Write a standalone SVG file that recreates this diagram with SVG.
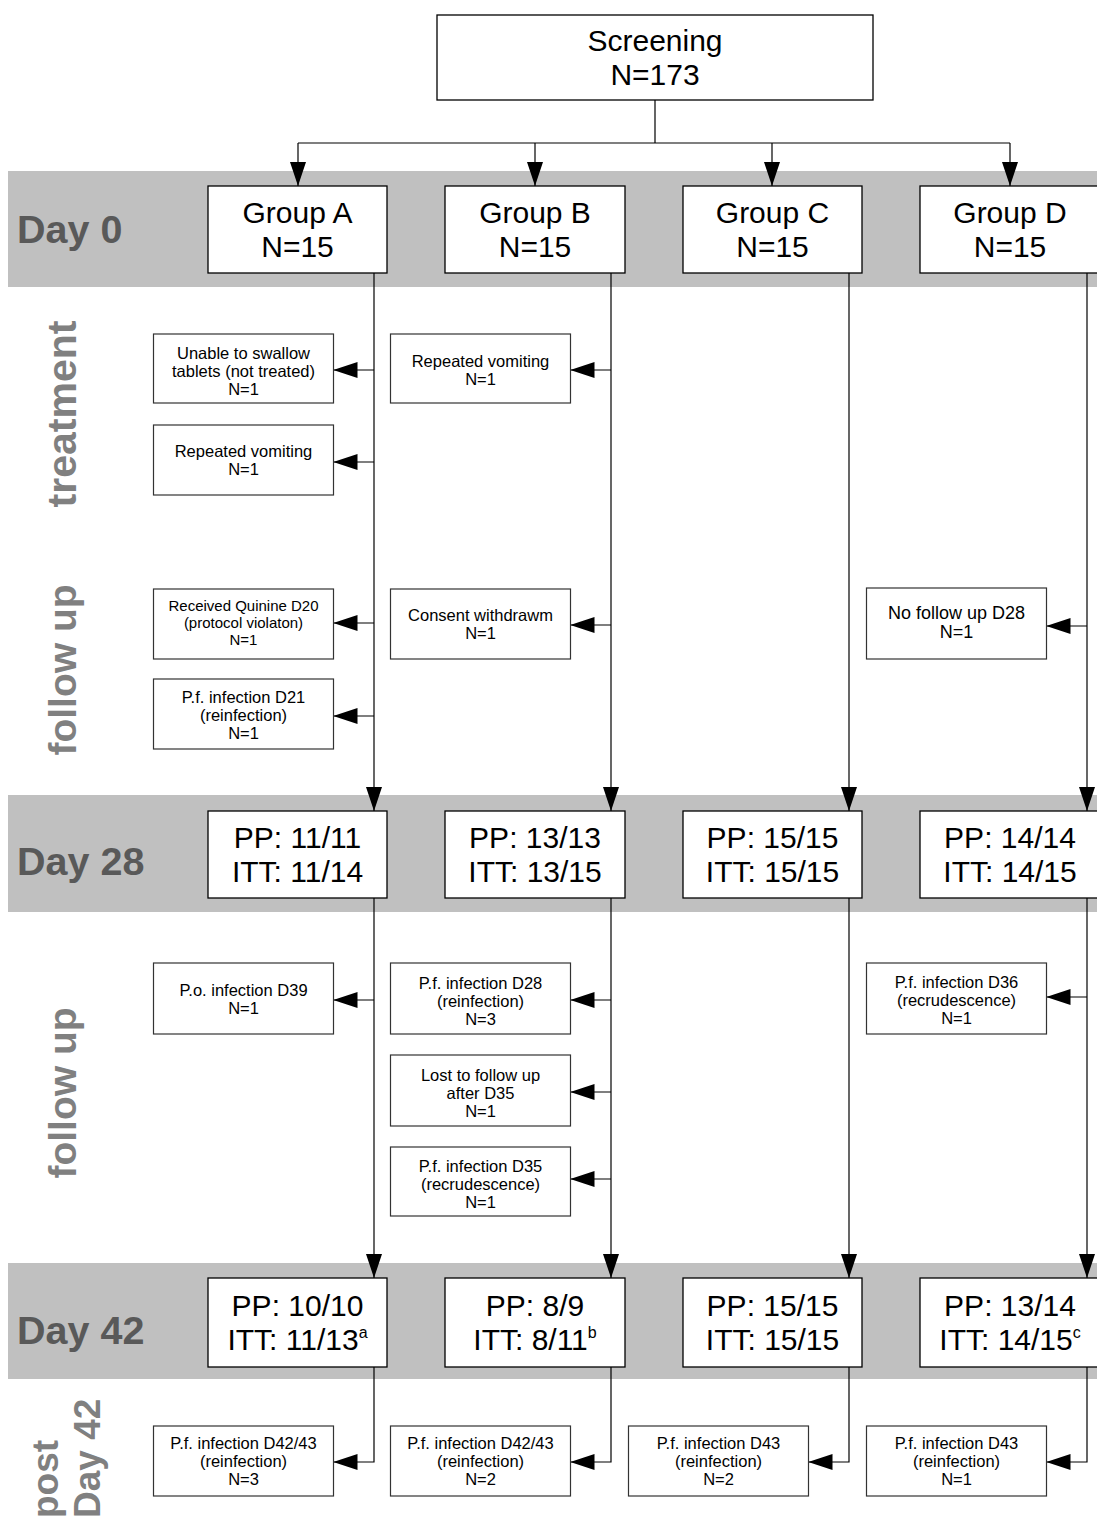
<svg xmlns="http://www.w3.org/2000/svg" width="1097" height="1517" viewBox="0 0 1097 1517">
<defs>
<marker id="ah" markerWidth="24" markerHeight="16" refX="24" refY="8" orient="auto" markerUnits="userSpaceOnUse"><path d="M0,0 L24,8 L0,16 z" fill="#000"/></marker>
<style>
.band{fill:#c0c0c0}
.box{fill:#fff;stroke:#000;stroke-width:1.3}
.sbox{fill:#fff;stroke:#333;stroke-width:1.2}
text{font-family:"Liberation Sans",Arial,Helvetica,sans-serif}
.big{font-size:30px;text-anchor:middle;fill:#000}
.sm{font-size:16.5px;text-anchor:middle;fill:#000}
.day{font-size:39.5px;font-weight:bold;fill:#595959}
.vl{font-size:39px;font-weight:bold;fill:#808080}
.conn{fill:none;stroke:#000;stroke-width:1.2}
</style>
</defs>
<rect width="1097" height="1517" fill="#fff"/>
<g id="bands">
<rect class="band" x="8" y="171" width="1089" height="116"/>
<rect class="band" x="8" y="795" width="1089" height="117"/>
<rect class="band" x="8" y="1263" width="1089" height="116"/>
<text class="day" x="17" y="243">Day 0</text>
<text class="day" x="17" y="875">Day 28</text>
<text class="day" x="17" y="1344">Day 42</text>
<text class="vl" style="font-size:41px" transform="translate(76,414) rotate(-90)" text-anchor="middle">treatment</text>
<text class="vl" transform="translate(76,670) rotate(-90)" text-anchor="middle">follow up</text>
<text class="vl" transform="translate(76,1093) rotate(-90)" text-anchor="middle">follow up</text>
<text class="vl" style="font-size:37px" transform="translate(58,1518) rotate(-90)">post</text>
<text class="vl" style="font-size:37px" transform="translate(100,1518) rotate(-90)">Day 42</text>
</g>
<g id="connectors">
<path class="conn" d="M655,100 V143 M298,143 H1010"/>
<path class="conn" d="M298,143 V186" marker-end="url(#ah)"/>
<path class="conn" d="M535,143 V186" marker-end="url(#ah)"/>
<path class="conn" d="M772,143 V186" marker-end="url(#ah)"/>
<path class="conn" d="M1010,143 V186" marker-end="url(#ah)"/>
<path class="conn" d="M374,273 V811" marker-end="url(#ah)"/>
<path class="conn" d="M374,898 V1278" marker-end="url(#ah)"/>
<path class="conn" d="M374,1367 V1462 H333.5" marker-end="url(#ah)"/>
<path class="conn" d="M611,273 V811" marker-end="url(#ah)"/>
<path class="conn" d="M611,898 V1278" marker-end="url(#ah)"/>
<path class="conn" d="M611,1367 V1462 H570.5" marker-end="url(#ah)"/>
<path class="conn" d="M849,273 V811" marker-end="url(#ah)"/>
<path class="conn" d="M849,898 V1278" marker-end="url(#ah)"/>
<path class="conn" d="M849,1367 V1462 H808.5" marker-end="url(#ah)"/>
<path class="conn" d="M1087,273 V811" marker-end="url(#ah)"/>
<path class="conn" d="M1087,898 V1278" marker-end="url(#ah)"/>
<path class="conn" d="M1087,1367 V1462 H1046.5" marker-end="url(#ah)"/>
<path class="conn" d="M374,370 H333.5" marker-end="url(#ah)"/>
<path class="conn" d="M374,462 H333.5" marker-end="url(#ah)"/>
<path class="conn" d="M374,623 H333.5" marker-end="url(#ah)"/>
<path class="conn" d="M374,716 H333.5" marker-end="url(#ah)"/>
<path class="conn" d="M374,1000 H333.5" marker-end="url(#ah)"/>
<path class="conn" d="M611,370 H570.5" marker-end="url(#ah)"/>
<path class="conn" d="M611,625 H570.5" marker-end="url(#ah)"/>
<path class="conn" d="M611,1000 H570.5" marker-end="url(#ah)"/>
<path class="conn" d="M611,1092 H570.5" marker-end="url(#ah)"/>
<path class="conn" d="M611,1179 H570.5" marker-end="url(#ah)"/>
<path class="conn" d="M1087,626 H1046.5" marker-end="url(#ah)"/>
<path class="conn" d="M1087,997 H1046.5" marker-end="url(#ah)"/>
</g>
<g id="screening"><rect class="box" x="437" y="15" width="436" height="85"/><text class="big" x="655" y="51">Screening</text><text class="big" x="655" y="85">N=173</text></g>
<g id="groupA"><rect class="box" x="208" y="186" width="179" height="87"/><text class="big" x="297.5" y="223">Group A</text><text class="big" x="297.5" y="257">N=15</text></g>
<g id="groupB"><rect class="box" x="445" y="186" width="180" height="87"/><text class="big" x="535" y="223">Group B</text><text class="big" x="535" y="257">N=15</text></g>
<g id="groupC"><rect class="box" x="683" y="186" width="179" height="87"/><text class="big" x="772.5" y="223">Group C</text><text class="big" x="772.5" y="257">N=15</text></g>
<g id="groupD"><rect class="box" x="920" y="186" width="180" height="87"/><text class="big" x="1010" y="223">Group D</text><text class="big" x="1010" y="257">N=15</text></g>
<g id="d28A"><rect class="box" x="208" y="811" width="179" height="87"/><text class="big" x="297.5" y="848">PP: 11/11</text><text class="big" x="297.5" y="882">ITT: 11/14</text></g>
<g id="d28B"><rect class="box" x="445" y="811" width="180" height="87"/><text class="big" x="535" y="848">PP: 13/13</text><text class="big" x="535" y="882">ITT: 13/15</text></g>
<g id="d28C"><rect class="box" x="683" y="811" width="179" height="87"/><text class="big" x="772.5" y="848">PP: 15/15</text><text class="big" x="772.5" y="882">ITT: 15/15</text></g>
<g id="d28D"><rect class="box" x="920" y="811" width="180" height="87"/><text class="big" x="1010" y="848">PP: 14/14</text><text class="big" x="1010" y="882">ITT: 14/15</text></g>
<g id="d42A"><rect class="box" x="208" y="1278" width="179" height="89"/><text class="big" x="297.5" y="1316">PP: 10/10</text><text class="big" x="297.5" y="1350">ITT: 11/13<tspan font-size="16" dy="-12">a</tspan></text></g>
<g id="d42B"><rect class="box" x="445" y="1278" width="180" height="89"/><text class="big" x="535" y="1316">PP: 8/9</text><text class="big" x="535" y="1350">ITT: 8/11<tspan font-size="16" dy="-12">b</tspan></text></g>
<g id="d42C"><rect class="box" x="683" y="1278" width="179" height="89"/><text class="big" x="772.5" y="1316">PP: 15/15</text><text class="big" x="772.5" y="1350">ITT: 15/15</text></g>
<g id="d42D"><rect class="box" x="920" y="1278" width="180" height="89"/><text class="big" x="1010" y="1316">PP: 13/14</text><text class="big" x="1010" y="1350">ITT: 14/15<tspan font-size="16" dy="-12">c</tspan></text></g>
<g id="a_unable"><rect class="sbox" x="153.5" y="334" width="180" height="69"/><text class="sm" x="243.5" y="359">Unable to swallow</text><text class="sm" x="243.5" y="377">tablets (not treated)</text><text class="sm" x="243.5" y="395">N=1</text></g>
<g id="a_vomit"><rect class="sbox" x="153.5" y="425" width="180" height="70"/><text class="sm" x="243.5" y="457">Repeated vomiting</text><text class="sm" x="243.5" y="475">N=1</text></g>
<g id="a_quinine"><rect class="sbox" x="153.5" y="589" width="180" height="70"/><text class="sm" style="font-size:15px" x="243.5" y="611">Received Quinine D20</text><text class="sm" style="font-size:15px" x="243.5" y="628">(protocol violaton)</text><text class="sm" style="font-size:15px" x="243.5" y="645">N=1</text></g>
<g id="a_d21"><rect class="sbox" x="153.5" y="679" width="180" height="70"/><text class="sm" x="243.5" y="703">P.f. infection D21</text><text class="sm" x="243.5" y="721">(reinfection)</text><text class="sm" x="243.5" y="739">N=1</text></g>
<g id="b_vomit"><rect class="sbox" x="390.5" y="334" width="180" height="69"/><text class="sm" x="480.5" y="367">Repeated vomiting</text><text class="sm" x="480.5" y="385">N=1</text></g>
<g id="b_consent"><rect class="sbox" x="390.5" y="589" width="180" height="70"/><text class="sm" x="480.5" y="621">Consent withdrawm</text><text class="sm" x="480.5" y="639">N=1</text></g>
<g id="d_nofollow"><rect class="sbox" x="866.5" y="588" width="180" height="71"/><text class="sm" style="font-size:18px" x="956.5" y="619">No follow up D28</text><text class="sm" style="font-size:18px" x="956.5" y="638">N=1</text></g>
<g id="a_d39"><rect class="sbox" x="153.5" y="963" width="180" height="71"/><text class="sm" x="243.5" y="996">P.o. infection D39</text><text class="sm" x="243.5" y="1014">N=1</text></g>
<g id="b_d28"><rect class="sbox" x="390.5" y="963" width="180" height="71"/><text class="sm" x="480.5" y="989">P.f. infection D28</text><text class="sm" x="480.5" y="1007">(reinfection)</text><text class="sm" x="480.5" y="1025">N=3</text></g>
<g id="b_lost"><rect class="sbox" x="390.5" y="1055" width="180" height="71"/><text class="sm" x="480.5" y="1081">Lost to follow up</text><text class="sm" x="480.5" y="1099">after D35</text><text class="sm" x="480.5" y="1117">N=1</text></g>
<g id="b_d35"><rect class="sbox" x="390.5" y="1147" width="180" height="69"/><text class="sm" x="480.5" y="1172">P.f. infection D35</text><text class="sm" x="480.5" y="1190">(recrudescence)</text><text class="sm" x="480.5" y="1208">N=1</text></g>
<g id="d_d36"><rect class="sbox" x="866.5" y="963" width="180" height="71"/><text class="sm" x="956.5" y="988">P.f. infection D36</text><text class="sm" x="956.5" y="1006">(recrudescence)</text><text class="sm" x="956.5" y="1024">N=1</text></g>
<g id="a_post"><rect class="sbox" x="153.5" y="1426" width="180" height="70"/><text class="sm" x="243.5" y="1449">P.f. infection D42/43</text><text class="sm" x="243.5" y="1467">(reinfection)</text><text class="sm" x="243.5" y="1485">N=3</text></g>
<g id="b_post"><rect class="sbox" x="390.5" y="1426" width="180" height="70"/><text class="sm" x="480.5" y="1449">P.f. infection D42/43</text><text class="sm" x="480.5" y="1467">(reinfection)</text><text class="sm" x="480.5" y="1485">N=2</text></g>
<g id="c_post"><rect class="sbox" x="628.5" y="1426" width="180" height="70"/><text class="sm" x="718.5" y="1449">P.f. infection D43</text><text class="sm" x="718.5" y="1467">(reinfection)</text><text class="sm" x="718.5" y="1485">N=2</text></g>
<g id="d_post"><rect class="sbox" x="866.5" y="1426" width="180" height="70"/><text class="sm" x="956.5" y="1449">P.f. infection D43</text><text class="sm" x="956.5" y="1467">(reinfection)</text><text class="sm" x="956.5" y="1485">N=1</text></g>
</svg>
